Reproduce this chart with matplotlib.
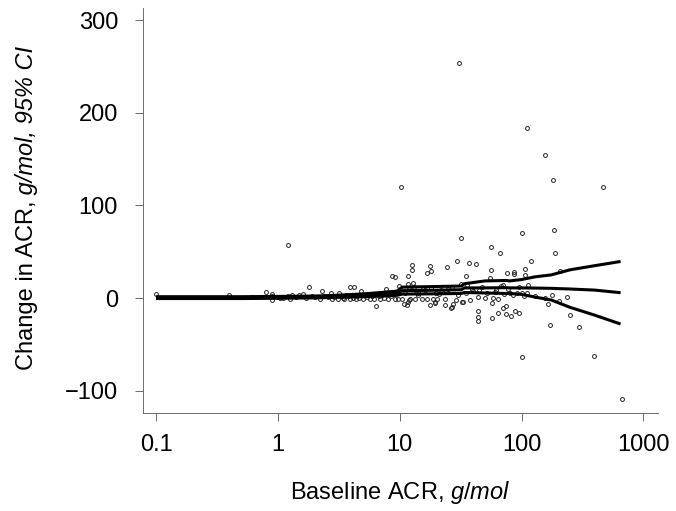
import matplotlib
matplotlib.use("Agg")
import matplotlib.pyplot as plt

plt.rcParams['font.family'] = ['Liberation Sans', 'DejaVu Sans']
plt.rcParams['mathtext.fontset'] = 'custom'
plt.rcParams['mathtext.rm'] = 'Liberation Sans'
plt.rcParams['mathtext.it'] = 'Liberation Sans:italic'

# baseline ACR (g/mol) and change in ACR for each patient
acr_base = [0.1, 0.4, 0.6, 0.8, 0.9, 0.9, 0.9, 1.0, 1.05, 1.1, 1.2, 1.2, 1.25, 1.3,
            1.4, 1.5, 1.6, 1.7, 1.8, 1.9, 2.0, 2.2, 2.3, 2.4, 2.6, 2.75, 2.8, 2.9,
            3.1, 3.2, 3.3, 3.4, 3.5, 3.6, 3.8, 3.9, 3.9, 4.1, 4.2, 4.4, 4.5, 4.6,
            4.8, 5.0, 5.2, 5.4, 5.7, 5.9, 6.0, 6.2, 6.4, 6.6, 6.8, 6.9, 7.2, 7.5,
            7.7, 8.0, 8.3, 8.5, 8.6, 9.0, 9.1, 9.2, 9.6, 9.9, 10.3, 10.4, 10.8,
            11.0, 11.5, 11.6, 11.6, 11.8, 11.9, 12.0, 12.1, 12.5, 12.5, 12.9,
            13.0, 13.3, 13.5, 14.0, 14.0, 15.1, 15.5, 16.0, 16.6, 16.6, 17.6,
            17.6, 18.0, 18.2, 18.6, 19.4, 19.5, 20.0, 20.4, 21.0, 22.0, 23.7,
            23.7, 24.0, 24.4, 25.0, 26.2, 26.8, 27.0, 27.3, 28.8, 29.5, 30.0,
            30.6, 31.8, 32.0, 32.7, 33.0, 34.7, 35.0, 36.0, 37.0, 38.0, 39.0,
            40.0, 42.4, 43.7, 44.0, 44.0, 44.0, 45.0, 47.0, 49.7, 52.0, 55.4,
            55.7, 56.0, 56.8, 57.5, 58.0, 60.0, 62.0, 64.0, 64.6, 66.0, 68.0,
            70.0, 71.0, 72.0, 74.0, 75.0, 75.9, 78.0, 80.0, 82.4, 85.0, 86.5,
            86.5, 89.0, 92.0, 95.0, 96.0, 100.0, 101.0, 101.0, 104.0, 106.0,
            106.0, 110.0, 110.0, 113.0, 120.0, 128.0, 155.0, 156.0, 164.0,
            170.0, 178.0, 181.0, 184.0, 189.0, 202.0, 207.0, 236.0, 251.0,
            295.0, 395.0, 466.0, 668.0]
acr_change = [4.7, 3.6, 1.0, 6.5, 4.0, 2.0, -2.5, 1.0, 0.0, 0.5, 57.0, 2.0, -0.5, 3.0,
              1.5, 3.5, 4.0, 0.5, 11.5, 2.5, 1.0, -0.5, 7.6, 2.0, 1.0, 5.0, -1.5, 1.0,
              -1.5, 5.8, 2.5, 0.0, -1.5, 3.0, 2.0, -1.5, 11.5, 0.5, 11.5, -1.5, 2.5, 0.0,
              7.9, -1.5, 3.0, 1.0, -1.5, 2.0, 3.5, -1.5, -8.3, 4.0, 2.0, -1.5, 3.0, 0.5,
              9.4, -1.5, 5.0, 2.0, 23.8, 6.0, -1.5, 23.0, -1.5, 13.0, 120.0, -1.5, -6.8,
              6.0, -8.0, 23.8, -4.0, 15.1, -2.0, 10.0, -1.5, 35.6, 29.8, 16.5,
              12.0, -1.5, 8.0, 3.0, 5.0, -1.5, 10.0, 9.0, 26.6, -1.5, 34.9,
              -7.6, 11.0, 28.8, -1.4, -5.8, -4.0, 6.0, -1.4, 4.0, 9.0, -1.4,
              -7.6, 8.0, 33.0, 10.0, -11.0, -10.0, 12.0, -6.5, -2.0, 40.3, 3.0,
              254.0, 65.0, 15.1, -4.0, -4.0, 23.8, 6.0, 14.0, 37.5, -2.0, 10.0,
              8.0, 36.7, 1.4, -13.7, -20.0, -24.5, 9.0, 12.0, -0.4, 6.0, 21.2,
              30.2, 55.0, -5.8, -22.0, -0.4, 7.0, 9.0, -1.4, -15.9, 48.3, 13.0,
              14.0, -11.0, 4.0, -17.6, -8.3, 26.6, 10.0, 5.0, -19.0, 3.0, 28.6,
              26.0, -13.7, 6.0, 12.0, -16.5, 5.0, 70.6, -64.0, 2.0, 31.0,
              24.5, 5.0, 183.0, 14.0, 40.3, 2.2, -0.4, 154.0, -6.8,
              -29.0, 3.2, 127.0, 73.0, 49.0, -3.2, 29.5, 0.7, -18.7,
              -31.7, -63.0, 120.0, -109.0]

# running estimate of the change with 95% CI
fit_x = [0.1, 0.5, 1, 2, 3, 5, 7, 9.5, 10.5, 20, 32, 34, 50, 75, 80, 100,
         130, 175, 250, 400, 650]
fit_upper = [1.5, 1.5, 1.8, 2.2, 3.0, 4.5, 6.0, 7.5, 11.8, 12.5, 13.0, 15.5,
             18.5, 19.0, 18.5, 20.0, 23.0, 25.0, 30.5, 35.0, 39.5]
fit_mean = [0.5, 0.5, 0.8, 1.2, 1.8, 2.8, 4.0, 5.0, 8.0, 8.5, 9.0, 11.0,
            11.0, 11.2, 11.0, 11.0, 10.8, 10.5, 9.8, 8.6, 5.8]
fit_lower = [-0.5, -0.5, -0.2, 0.2, 0.8, 1.5, 2.2, 3.0, 4.3, 4.6, 5.0, 6.0,
             5.5, 5.0, 5.0, 4.0, 1.0, -2.0, -10.0, -18.5, -28.0]

xtick_vals = [0.1, 1, 10, 100, 1000]
xtick_labels = ['0.1', '1', '10', '100', '1000']
ytick_vals = [-100, 0, 100, 200, 300]
ytick_labels = ['\u2212100', '0', '100', '200', '300']

W, H = 676, 511
fig = plt.figure(figsize=(W / 100, H / 100), dpi=100)
ax = fig.add_axes([143 / W, 1 - 413 / H, (658 - 143) / W, (413 - 8) / H])

ax.plot(acr_base, acr_change, 'o', mfc='none', mec='#222222', ms=2.8, mew=0.7)
for line in (fit_upper, fit_mean, fit_lower):
    ax.plot(fit_x, line, '-', color='k', lw=2.2, solid_capstyle='butt')

ax.set_xscale('log')
ax.set_xlim(0.0782, 1318)
ax.set_ylim(-124, 313)
ax.set_xticks(xtick_vals)
ax.set_xticklabels(xtick_labels)
ax.minorticks_off()
ax.set_yticks(ytick_vals)
ax.set_yticklabels(ytick_labels)

for side in ['top', 'right']:
    ax.spines[side].set_visible(False)
for side in ['left', 'bottom']:
    ax.spines[side].set_linewidth(0.6)
    ax.spines[side].set_color('#555555')

ax.tick_params(axis='both', direction='out', length=6, width=0.6,
               color='#555555', labelsize=17)
ax.tick_params(axis='x', pad=9)
ax.tick_params(axis='y', pad=12)

fig.text(400 / W, 1 - 492 / H, 'Baseline ACR, $\\mathit{g/mol}$',
         ha='center', va='center', fontsize=17)

# y label: upright part, then italic part stacked right after it
ylab1 = fig.text(27 / W, 1 - 370 / H, 'Change in ACR,', ha='center', va='bottom',
                 rotation=90, fontsize=17)
ax.annotate(' g/mol, 95% CI', xy=(0.5, 1), xycoords=ylab1, ha='center',
            va='bottom', rotation=90, fontsize=17, style='italic',
            annotation_clip=False)

fig.savefig('out.png', dpi=100)
